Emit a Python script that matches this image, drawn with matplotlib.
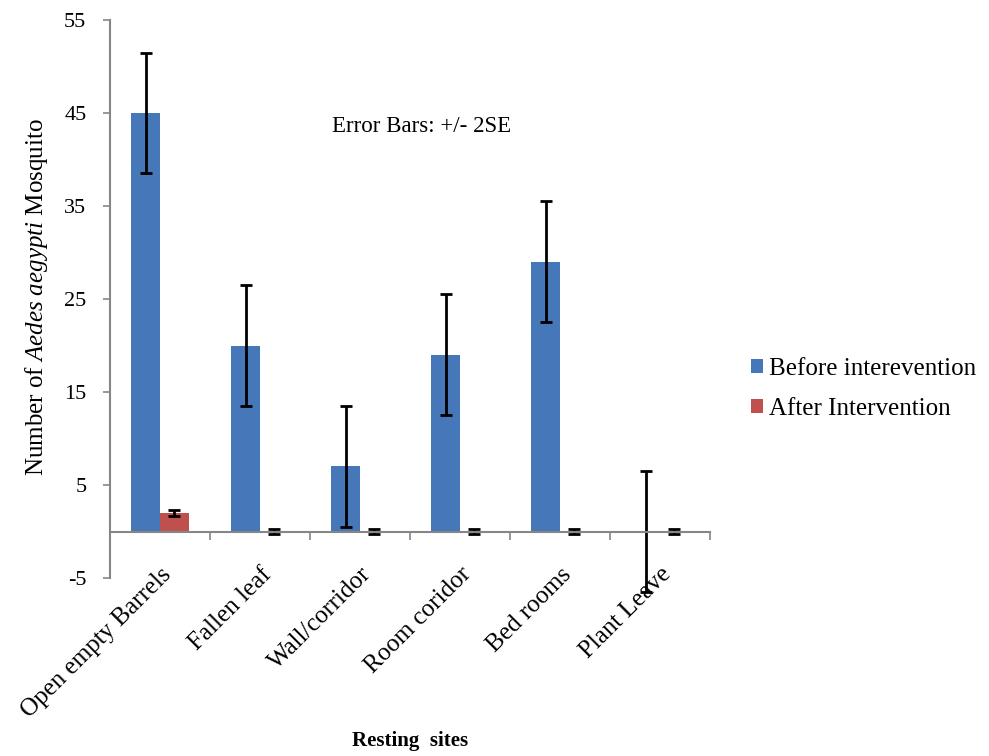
import numpy as np
import matplotlib
matplotlib.use('Agg')
import matplotlib.pyplot as plt

sites = ['Open empty Barrels', 'Fallen leaf', 'Wall/corridor', 'Room coridor', 'Bed rooms', 'Plant Leave']
before = [45, 20, 7, 19, 29, 0]
before_err = [6.5, 6.5, 6.5, 6.5, 6.5, 6.5]
after = [2, 0, 0, 0, 0, 0]
after_err = [0.35, 0.3, 0.3, 0.3, 0.3, 0.3]

plt.rcParams['font.family'] = ['Liberation Serif', 'DejaVu Serif']
plt.rcParams['mathtext.fontset'] = 'custom'
plt.rcParams['mathtext.rm'] = 'Liberation Serif'
plt.rcParams['mathtext.it'] = 'Liberation Serif:italic'
plt.rcParams['axes.unicode_minus'] = False

grey = '#868686'
fig = plt.figure(figsize=(9.89, 7.56), dpi=100)
ax = fig.add_axes([110/989, 1-578/756, 600/989, 558/756])

x = np.arange(len(sites))
w = 0.286
ekw = dict(ecolor='black', elinewidth=2, capsize=4.5, capthick=2, clip_on=False)
ax.bar(x - w/2, before, w, color='#4677B8', yerr=before_err, error_kw=ekw,
       label='Before interevention')
ax.bar(x + w/2, after, w, color='#C0504D', yerr=after_err, error_kw=ekw,
       label='After Intervention')

ax.set_xlim(-0.5, 5.5)
ax.set_ylim(-5, 55)
ax.set_yticks(np.arange(-5, 56, 10))
ax.tick_params(axis='y', colors=grey, length=5, width=1.2, labelsize=16,
               labelcolor='black', pad=12)

# category axis crosses at zero
ax.spines['bottom'].set_position(('data', 0))
for s in ['top', 'right']:
    ax.spines[s].set_visible(False)
for s in ['left', 'bottom']:
    ax.spines[s].set_color(grey)
    ax.spines[s].set_linewidth(1.5)
ax.set_xticks(np.arange(-0.5, 6, 1))
ax.set_xticklabels([])
ax.tick_params(axis='x', which='major', colors=grey, length=6, width=1.2)
ax.set_xticks(x, minor=True)
ax.set_xticklabels(sites, minor=True, rotation=45, ha='right', rotation_mode='anchor',
                   fontsize=18)
ax.tick_params(axis='x', which='minor', length=0, pad=23)

ax.text(2.62, 43.5, 'Error Bars: +/- 2SE', fontsize=16.5, ha='center', va='center')

fig.text(37/989, 1-297/756, 'Number of $Aedes\\ aegypti$ Mosquito', rotation=90,
         fontsize=18, ha='center', va='center')
fig.text(410/989, 1-741/756, 'Resting  sites', fontsize=15, fontweight='bold',
         ha='center', va='center')

fig.legend(loc='center left', bbox_to_anchor=(728/989, 1-389/756), frameon=False,
           fontsize=18, handlelength=0.5, handleheight=0.5, handletextpad=0.25,
           labelspacing=0.72)

plt.savefig('out.png')
